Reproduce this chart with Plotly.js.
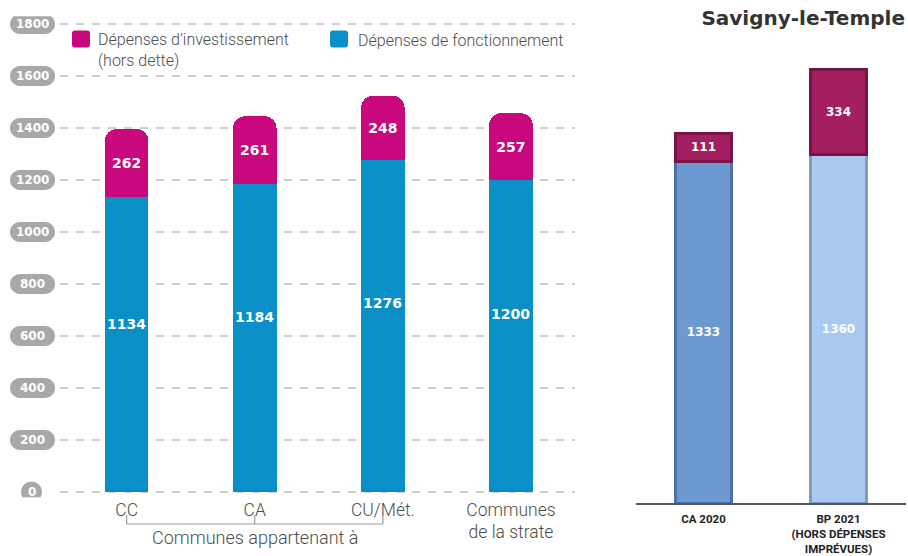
<!DOCTYPE html>
<html>
<head>
<meta charset="utf-8">
<script src="https://cdn.plot.ly/plotly-3.0.1.min.js"></script>
<style>
  html, body { margin: 0; padding: 0; background: #ffffff; }
  #chart { width: 908px; height: 556px; }
</style>
</head>
<body>
<div id="chart"></div>
<script>
// ---- Data (left panel: communes by type) ----
const categories = ['CC', 'CA', 'CU/Mét.', 'Communes<br>de la strate'];
const investissement = [262, 261, 248, 257];
const fonctionnement = [1134, 1184, 1276, 1200];
const seriesNames = ['Dépenses d’investissement<br>(hors dette)', 'Dépenses de fonctionnement'];
const groupLabel = 'Communes appartenant à';
const groupedCategories = [0, 1, 2];
const yTicks = [0, 200, 400, 600, 800, 1000, 1200, 1400, 1600, 1800];
const yTickLabels = ['0', '200', '400', '600', '800', '1000', '1200', '1400', '1600', '1800'];

// ---- Data (right panel: Savigny-le-Temple) ----
const savTitle = 'Savigny-le-Temple';
const savCategories = ['CA 2020', 'BP 2021<br>(HORS DÉPENSES<br>IMPRÉVUES)'];
const savFonctionnement = [1333, 1360];
const savInvestissement = [111, 334];

// ---- Styles ----
const W = 908, H = 556;
const MAGENTA = '#c8087c';
const BLUE = '#0b8fc7';
const THIN = 'Roboto, Liberation Sans, sans-serif';
const BOLD = 'DejaVu Sans, Verdana, sans-serif';
const py = (px) => 1 - px / H;
const pxX = (px) => px / W;

const traces = [
  {
    type: 'bar', name: seriesNames[1], x: categories, y: fonctionnement,
    xaxis: 'x', yaxis: 'y', width: 0.34,
    marker: { color: BLUE, cornerradius: 12 },
    hoverinfo: 'skip'
  },
  {
    type: 'bar', name: seriesNames[0], x: categories, y: investissement,
    xaxis: 'x', yaxis: 'y', width: 0.34,
    marker: { color: MAGENTA },
    texttemplate: '%{y}', textposition: 'inside', insidetextanchor: 'middle',
    textfont: { family: BOLD, size: 14, color: '#ffffff', weight: 'bold' },
    hoverinfo: 'skip'
  },
  {
    type: 'bar', name: 'Fonctionnement', x: savCategories, y: savFonctionnement,
    xaxis: 'x2', yaxis: 'y2', width: 0.41,
    marker: { color: ['#6d99d1', '#a9c9f1'], line: { color: ['#4b72a6', '#7f9bc2'], width: 3 } },
    texttemplate: '%{y}', textposition: 'inside', insidetextanchor: 'middle',
    textfont: { family: BOLD, size: 12, color: '#ffffff', weight: 'bold' },
    hoverinfo: 'skip'
  },
  {
    type: 'bar', name: 'Investissement', x: savCategories, y: savInvestissement,
    xaxis: 'x2', yaxis: 'y2', width: 0.41,
    marker: { color: '#a31f60', line: { color: '#7a1446', width: 3 } },
    texttemplate: '%{y}', textposition: 'inside', insidetextanchor: 'middle',
    textfont: { family: BOLD, size: 12, color: '#ffffff', weight: 'bold' },
    hoverinfo: 'skip'
  }
];

const shapes = [];
const annotations = [];

// y tick "pills"
const pillPath = 'M-12.5,-10 L12.5,-10 C18,-10 22.5,-5.5 22.5,0 C22.5,5.5 18,10 12.5,10 L-12.5,10 C-18,10 -22.5,5.5 -22.5,0 C-22.5,-5.5 -18,-10 -12.5,-10 Z';
yTicks.forEach((v, i) => {
  if (v === 0) {
    shapes.push({
      type: 'circle', xref: 'paper', yref: 'y', xsizemode: 'pixel', ysizemode: 'pixel',
      xanchor: pxX(31.5), yanchor: v, x0: -10.5, x1: 10.5, y0: -10.5, y1: 10.5,
      fillcolor: '#a8a8a8', line: { width: 0 }, layer: 'above'
    });
  } else {
    shapes.push({
      type: 'path', xref: 'paper', yref: 'y', xsizemode: 'pixel', ysizemode: 'pixel',
      xanchor: pxX(32.5), yanchor: v, path: pillPath,
      fillcolor: '#a8a8a8', line: { width: 0 }, layer: 'above'
    });
  }
  annotations.push({
    xref: 'paper', yref: 'y', x: v === 0 ? pxX(31.5) : pxX(32.5), y: v,
    text: yTickLabels[i], showarrow: false, xanchor: 'center', yanchor: 'middle',
    font: { family: BOLD, size: 12, color: '#ffffff', weight: 'bold' }
  });
});

// labels inside the blue bars
fonctionnement.forEach((v, i) => {
  annotations.push({
    xref: 'x', yref: 'y', x: i, y: v * 0.57, text: String(v), showarrow: false,
    xanchor: 'center', yanchor: 'middle',
    font: { family: BOLD, size: 14, color: '#ffffff', weight: 'bold' }
  });
});

// bracket under the first three categories
shapes.push({
  type: 'line', xref: 'x', yref: 'paper',
  x0: groupedCategories[0], x1: groupedCategories[groupedCategories.length - 1],
  y0: py(524), y1: py(524), line: { color: '#9a9a9a', width: 1.2 }
});
groupedCategories.forEach((c) => {
  shapes.push({
    type: 'line', xref: 'x', yref: 'paper', x0: c, x1: c, y0: py(524), y1: py(515),
    line: { color: '#9a9a9a', width: 1.2 }
  });
});
annotations.push({
  xref: 'x', yref: 'paper', x: groupedCategories[1], y: py(537), text: groupLabel,
  showarrow: false, xanchor: 'center', yanchor: 'middle',
  font: { family: THIN, size: 18, color: '#4d4d4d', weight: 300 }
});

// custom legend
const sqPath = 'M-6,-8.5 L6,-8.5 Q9,-8.5 9,-5.5 L9,5.5 Q9,8.5 6,8.5 L-6,8.5 Q-9,8.5 -9,5.5 L-9,-5.5 Q-9,-8.5 -6,-8.5 Z';
shapes.push({
  type: 'path', xref: 'paper', yref: 'paper', xsizemode: 'pixel', ysizemode: 'pixel',
  xanchor: pxX(81), yanchor: py(39), path: sqPath, fillcolor: MAGENTA, line: { width: 0 }
});
shapes.push({
  type: 'path', xref: 'paper', yref: 'paper', xsizemode: 'pixel', ysizemode: 'pixel',
  xanchor: pxX(339), yanchor: py(39), path: sqPath, fillcolor: BLUE, line: { width: 0 }
});
annotations.push({
  xref: 'paper', yref: 'paper', x: pxX(96), y: py(28), text: seriesNames[0],
  showarrow: false, xanchor: 'left', yanchor: 'top', align: 'left',
  font: { family: THIN, size: 16, color: '#4d4d4d', weight: 300 }
});
annotations.push({
  xref: 'paper', yref: 'paper', x: pxX(356), y: py(40), text: seriesNames[1],
  showarrow: false, xanchor: 'left', yanchor: 'middle', align: 'left',
  font: { family: THIN, size: 16, color: '#4d4d4d', weight: 300 }
});

const layout = {
  width: W, height: H,
  margin: { l: 0, r: 0, t: 0, b: 0 },
  paper_bgcolor: '#ffffff', plot_bgcolor: 'rgba(0,0,0,0)',
  barmode: 'stack', showlegend: false,
  title: {
    text: savTitle, x: pxX(905), xanchor: 'right', y: py(18), yanchor: 'middle',
    font: { family: BOLD, size: 20, color: '#333333', weight: 'bold' }
  },
  xaxis: {
    domain: [pxX(60), pxX(575)], range: [-0.52, 3.5], type: 'category',
    showgrid: false, zeroline: false, showline: false, ticks: '',
    tickfont: { family: THIN, size: 17.5, color: '#4d4d4d', weight: 300 },
    fixedrange: true
  },
  yaxis: {
    domain: [py(497.2), py(16.2)], range: [-20, 1830],
    tickvals: yTicks, showticklabels: false, ticks: '',
    showgrid: true, gridcolor: '#cdcdcd', gridwidth: 1.5, griddash: '8px,8px',
    zeroline: false, showline: false, fixedrange: true
  },
  xaxis2: {
    anchor: 'y2', domain: [pxX(636), pxX(906)], range: [-0.5, 1.5], type: 'category',
    showgrid: false, zeroline: false, showline: true, linecolor: '#555555', linewidth: 1.5,
    ticks: '', ticklabelstandoff: 5,
    tickfont: { family: 'Roboto, Liberation Sans, sans-serif', size: 11.5, color: '#222222', weight: 'bold' },
    fixedrange: true
  },
  yaxis2: {
    anchor: 'x2', domain: [py(503), py(42)], range: [0, 1800],
    showgrid: false, zeroline: false, showline: false, showticklabels: false, ticks: '',
    fixedrange: true
  },
  shapes: shapes,
  annotations: annotations
};

Plotly.newPlot('chart', traces, layout, { displayModeBar: false, staticPlot: true });
</script>
</body>
</html>
